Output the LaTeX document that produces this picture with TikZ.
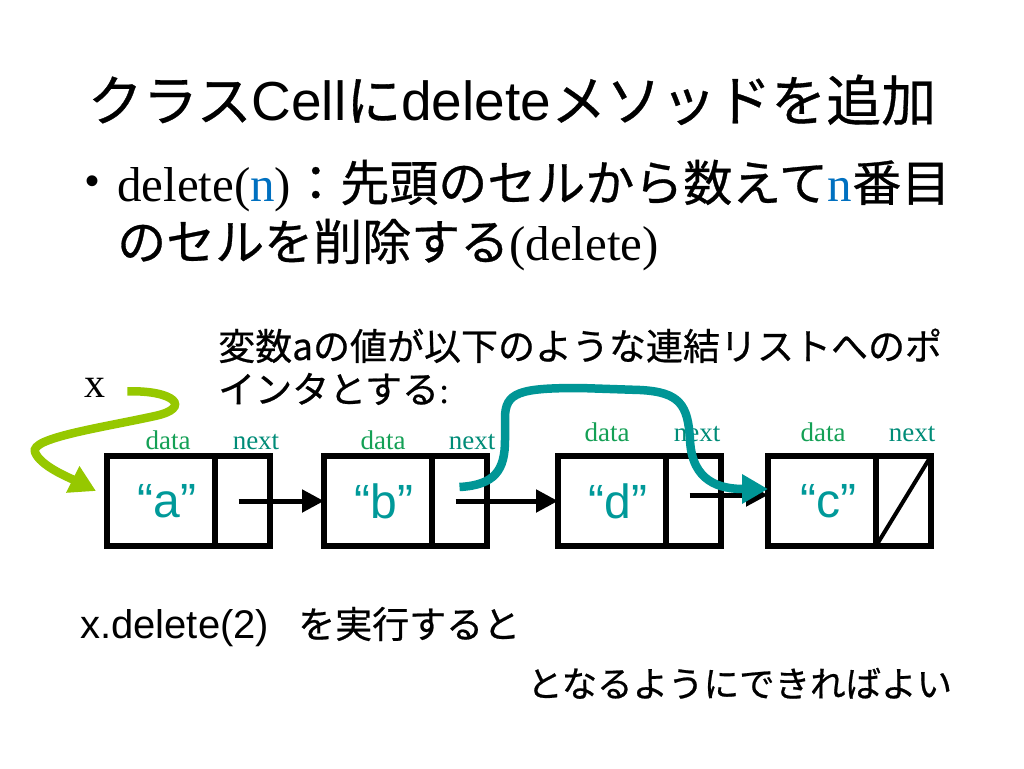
\documentclass[tikz,border=0pt]{standalone}
\usepackage{fontspec}
\setmainfont{Liberation Serif}
\newfontfamily\jp[FakeBold=0.6]{Noto Sans CJK JP}
\newfontfamily\ar{Liberation Sans}
\usetikzlibrary{arrows.meta,positioning}
\definecolor{ptrgreen}{RGB}{150,200,0}
\definecolor{ptrteal}{RGB}{0,150,150}
\definecolor{celltext}{RGB}{0,153,153}
\definecolor{datagreen}{RGB}{20,160,85}
\definecolor{nextteal}{RGB}{0,140,120}
\definecolor{nblue}{RGB}{0,112,192}
\newcommand{\fs}[1]{\fontsize{#1}{#1}\selectfont}

\begin{document}
\begin{tikzpicture}[x=1pt, y=-1pt,
  every node/.style={inner sep=0pt},
  databox/.style={draw, line width=5.5pt, outer sep=0pt, minimum width=108pt, minimum height=90pt, font={\ar\fs{48}}, text=celltext},
  nextbox/.style={databox, minimum width=55pt},
  datalbl/.style={anchor=base, font=\fs{27}, text=datagreen},
  nextlbl/.style={anchor=base, font=\fs{27}, text=nextteal},
  link/.style={line width=5pt, -{Triangle[length=22pt,width=22pt]}},
  jump/.style={line width=8.5pt, -{Triangle[length=26pt,width=28pt]}}]
  \useasboundingbox[fill=white] (0,0) rectangle (1024,768);

  \node[font={\jp\fs{55}}] (title) at (512,100) {クラス{\ar Cell}に{\ar delete}メソッドを追加};
  \node[font={\ar\fs{40}}] (bullet) at (93,185) {•};
  \node[anchor=base west, font={\jp\fs{49}}] (line1) at (117,201) {{\rmfamily delete(\textcolor{nblue}{n})}：先頭のセルから数えて{\rmfamily\textcolor{nblue}{n}}番目};
  \node[anchor=base west, font={\jp\fs{49}}] (line2) at (117,260) {のセルを削除する{\rmfamily(delete)}};

  \node[anchor=base west, font={\jp\fs{37}}] (para1) at (218,360) {変数aの値が以下のような連結リストへのポ};
  \node[anchor=base west, font={\jp\fs{37}}] (para2) at (218,403) {インタとする{\rmfamily :}};
  \node[anchor=base west, font=\fs{42}] (xvar) at (84,397) {x};

  % cells
  \node[databox] (adata) at (161,501) {\hspace*{12pt}“a”};
  \node[nextbox, right=0pt of adata] (anext) {};
  \node[databox] (bdata) at (378,501) {\hspace*{12pt}“b”};
  \node[nextbox, right=0pt of bdata] (bnext) {};
  \node[databox] (ddata) at (612,501) {\hspace*{12pt}“d”};
  \node[nextbox, right=0pt of ddata] (dnext) {};
  \node[databox] (cdata) at (822,501) {\hspace*{12pt}“c”};
  \node[nextbox, right=0pt of cdata] (cnext) {};
  \draw[line width=4pt] (cnext.south west) -- (cnext.north east);

  \node[datalbl] (adatalbl) at (168,449) {data};
  \node[nextlbl] (anextlbl) at (256,449) {next};
  \node[datalbl] (bdatalbl) at (383,449) {data};
  \node[nextlbl] (bnextlbl) at (472,449) {next};
  \node[datalbl] (ddatalbl) at (607,441) {data};
  \node[nextlbl] (dnextlbl) at (697,441) {next};
  \node[datalbl] (cdatalbl) at (823,441) {data};
  \node[nextlbl] (cnextlbl) at (912,441) {next};

  \draw[link] ([xshift=-4pt]anext.center) -- (bdata.west);
  \draw[link] ([xshift=-4pt]bnext.center) -- (ddata.west);
  \draw[link] ([shift={(-4,-6)}]dnext.center) -- ([yshift=6pt]cdata.west);

  \draw[jump, ptrgreen] ([shift={(22,4)}]xvar.east) .. controls (175,390) and (192,408) .. (155,416)
    .. controls (100,428) and (30,438) .. (35,452) .. controls (40,466) and (70,478) .. ([shift={(-11,-10)}]adata.west);
  \draw[jump, ptrteal] ([yshift=14pt]bnext.center) .. controls (495,485) and (505,470) .. (505,440)
    -- (505,418) .. controls (505,392) and (520,388) .. (580,388) -- (640,390)
    .. controls (680,392) and (688,405) .. (690,440) .. controls (692,482) and (720,489) .. ([yshift=12pt]cdata.west);

  \node[anchor=base west, font={\ar\fs{40}}] (call) at (80,638) {x.delete(2)};
  \node[anchor=base west, font={\jp\fs{37}}] (then) at (298,638) {を実行すると};
  \node[anchor=base west, font={\jp\fs{35.5}}] (goal) at (527,697) {となるようにできればよい};
\end{tikzpicture}
\end{document}
